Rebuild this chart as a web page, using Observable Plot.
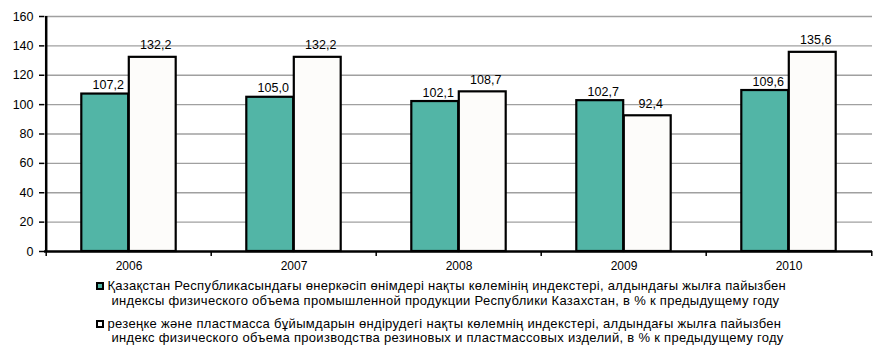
<!DOCTYPE html>
<html>
<head>
<meta charset="utf-8">
<script src="https://cdn.jsdelivr.net/npm/d3@7"></script>
<script src="https://cdn.jsdelivr.net/npm/@observablehq/plot@0.6"></script>
<style>
  body { margin: 0; background: #fff; font-family: "Liberation Sans", Arial, sans-serif; }
  #chart { width: 885px; }
  .legend { margin-left: 96px; margin-top: 3px; font-size: 13px; letter-spacing: 0.3px; line-height: 14.5px; color: #000; }
  .item { display: flex; align-items: flex-start; margin-bottom: 8.5px; }
  .sw { width: 4px; height: 4px; border: 2px solid #000; margin-top: 3px; margin-right: 3.5px; flex: none; }
  .txt span { display: block; }
  .txt span + span { padding-left: 4px; }
</style>
</head>
<body>
<div id="chart"></div>
<script>
const years = ["2006", "2007", "2008", "2009", "2010"];
const industry = [107.2, 105.0, 102.1, 102.7, 109.6];
const rubber = [132.2, 132.2, 108.7, 92.4, 135.6];
const yTicks = [0, 20, 40, 60, 80, 100, 120, 140, 160];
const seriesNames = [
  ["Қазақстан Республикасындағы өнеркәсіп өнімдері нақты көлемінің индекстері, алдындағы жылға пайызбен",
   "индексы физического объема промышленной продукции Республики Казахстан, в % к предыдущему году"],
  ["резеңке және пластмасса бұйымдарын өндірудегі нақты көлемнің индекстері, алдындағы жылға пайызбен",
   "индекс физического объема производства резиновых и пластмассовых изделий, в % к предыдущему году"]
];
const colors = ["#52B5A6", "#FDFCFA"];

const W = 885, mL = 44, mR = 13;
const step = (W - mL - mR) / years.length;
const barW = 47.5;
const outer = (step - 2 * barW) / 2;

const fmt = v => v.toFixed(1).replace(".", ",");
const d1 = years.map((y, i) => ({year: y, value: industry[i]}));
const d2 = years.map((y, i) => ({year: y, value: rubber[i]}));

const plot = Plot.plot({
  width: W,
  height: 276,
  marginLeft: mL,
  marginRight: mR,
  marginTop: 16,
  marginBottom: 25,
  style: {fontFamily: "'Liberation Sans', Arial, sans-serif", fontSize: "12px", color: "#000"},
  x: {type: "band", domain: years, padding: 0, label: null},
  y: {domain: [0, 160], label: null},
  marks: [
    Plot.ruleY(yTicks.filter(t => t > 0), {stroke: "#A0A0A0", strokeWidth: 1.3, strokeOpacity: 1}),
    Plot.barY(d1, {x: "year", y: "value", fill: colors[0], stroke: "#000", strokeWidth: 2.2,
      insetLeft: outer, insetRight: step - outer - barW}),
    Plot.barY(d2, {x: "year", y: "value", fill: colors[1], stroke: "#000", strokeWidth: 2.2,
      insetLeft: outer + barW, insetRight: outer}),
    Plot.text(d1, {x: "year", y: "value", text: d => fmt(d.value), dx: -barW / 2 + 3, dy: -5, lineAnchor: "bottom", fontSize: 12.5}),
    Plot.text(d2, {x: "year", y: "value", text: d => fmt(d.value), dx: barW / 2 + 3, dy: -8, lineAnchor: "bottom", fontSize: 12.5}),
    Plot.axisY({ticks: yTicks, tickSize: 5, tickPadding: 6, tickFormat: d => d, strokeWidth: 1.5, fontSize: 12.5}),
    Plot.axisX({tickSize: 0, tickPadding: 10, fontSize: 12}),
    Plot.ruleX(years, {x: d => d, dx: -step / 2, y1: 0, y2: 0, insetBottom: -5, stroke: "#000", strokeWidth: 1.5}),
    Plot.ruleX([years[years.length - 1]], {x: d => d, dx: step / 2, y1: 0, y2: 0, insetBottom: -5, stroke: "#000", strokeWidth: 1.5}),
    Plot.ruleX([years[0]], {x: d => d, dx: -step / 2, y1: 0, y2: 160, stroke: "#000", strokeWidth: 2.5}),
    Plot.ruleY([0], {stroke: "#000", strokeWidth: 2.5})
  ]
});
document.getElementById("chart").appendChild(plot);

const legend = document.createElement("div");
legend.className = "legend";
seriesNames.forEach((lines, i) => {
  const item = document.createElement("div");
  item.className = "item";
  const sw = document.createElement("div");
  sw.className = "sw";
  sw.style.background = colors[i];
  const txt = document.createElement("div");
  txt.className = "txt";
  lines.forEach(l => { const s = document.createElement("span"); s.textContent = l; txt.appendChild(s); });
  item.appendChild(sw);
  item.appendChild(txt);
  legend.appendChild(item);
});
document.getElementById("chart").appendChild(legend);
</script>
</body>
</html>
